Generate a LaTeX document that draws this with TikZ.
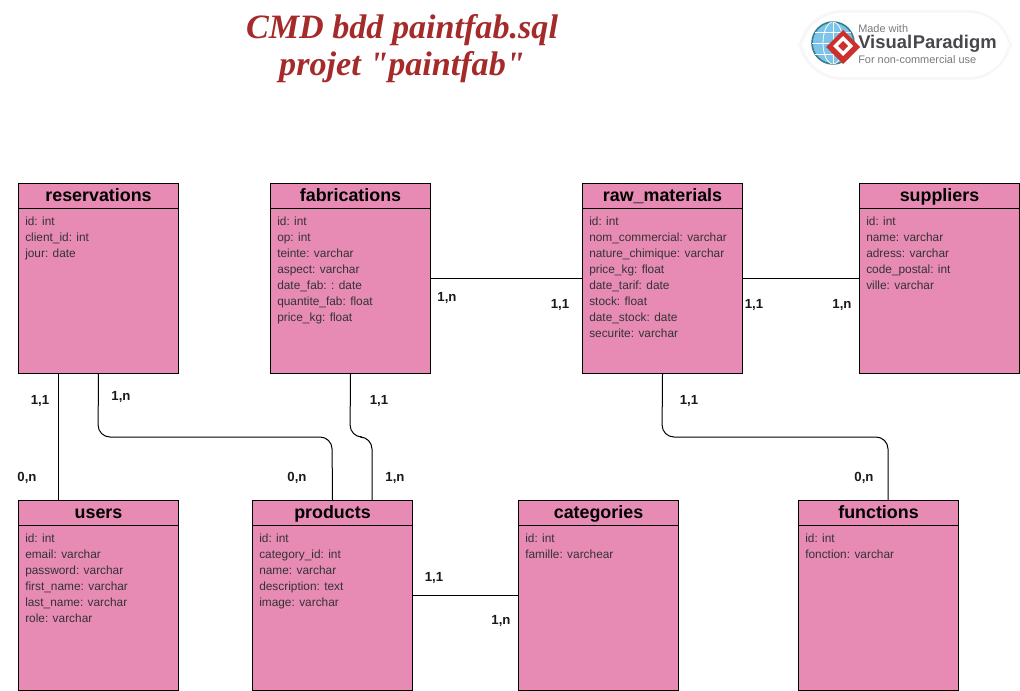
\documentclass[tikz,border=0pt]{standalone}
\usepackage{fontspec}
\setmainfont{Liberation Sans}
\newfontfamily\titlefont{Liberation Serif}
\usetikzlibrary{calc}
\definecolor{tablepink}{HTML}{E78BB5}
\definecolor{titlered}{HTML}{A52A2A}
\definecolor{logogray}{HTML}{77797C}
\definecolor{logodark}{HTML}{46484B}
\definecolor{logored}{HTML}{CC2F2C}
\definecolor{logoblue}{HTML}{7CC4EA}
\definecolor{logoteal}{HTML}{3B7C8C}

\begin{document}
\begin{tikzpicture}[
    x=0.75pt, y=-0.75pt,
    tablebox/.style={
        draw,
        fill=tablepink,
        line width=0.75pt,
        anchor=north west,
        minimum width=120pt,
        minimum height=142.5pt
    },
    tabletitle/.style={
        draw,
        line width=0.75pt,
        anchor=north,
        minimum width=120pt,
        minimum height=18.75pt,
        inner sep=0pt,
        text height=10.25pt,
        text depth=2.05pt,
        font=\fontsize{13.4}{14}\selectfont\bfseries
    },
    tablefields/.style={
        anchor=north west,
        align=left,
        inner sep=0pt,
        text=black!80,
        font=\fontsize{8.9}{12}\selectfont
    },
    cardlabel/.style={
        font=\fontsize{9.9}{12}\selectfont\bfseries,
        text=black!90
    },
    link/.style={line width=0.75pt, rounded corners=9pt}
]

\useasboundingbox (0,0) rectangle (1020,691);

% title
\node[font=\titlefont\fontsize{25.6}{27.8}\selectfont\bfseries\itshape, text=titlered, align=center] (title) at (402,49) {CMD bdd paintfab.sql\\projet "paintfab"};

% logo
\fill[black!3, rounded corners=33pt] (798,10) rectangle (1012,80);
\fill[white, rounded corners=30pt] (802,13) rectangle (1009,77);
\fill[logoblue] (833,43) circle (21);
\draw[logoteal, line width=1.2pt] (833,43) circle (21);
\draw[white, line width=0.6pt] (812,43) -- (854,43) (815,32) -- (851,32) (815,54) -- (851,54) (833,22) -- (833,64);
\draw[white, line width=0.6pt] (833,43) ellipse (10 and 21);
\fill[logored] (843,30) -- (860,47) -- (843,64) -- (826,47) -- cycle;
\fill[white] (843,36) -- (853,46) -- (843,56) -- (833,46) -- cycle;
\fill[logored] (843,41) -- (848,46) -- (843,51) -- (838,46) -- cycle;
\node[anchor=west, inner sep=0pt, text=logogray, font=\fontsize{8.2}{10}\selectfont] (logotop) at (858,29) {Made with};
\node[anchor=west, inner sep=0pt, text=logodark, font=\fontsize{13.8}{15}\selectfont\bfseries] (logoname) at (858,44) {Visual\kern0.5pt Paradigm};
\node[anchor=west, inner sep=0pt, text=logogray, font=\fontsize{8.2}{10}\selectfont] (logobottom) at (858,60) {For non-commercial use};

% tables
\node[tablebox] (reservations) at (18,183) {};
\node[tabletitle] (reservationstitle) at (reservations.north) {reservations};
\node[tablefields] (reservationsfields) at (25,216.5) {id: int\\client\_id: int\\jour: date};

\node[tablebox] (fabrications) at (270,183) {};
\node[tabletitle] (fabricationstitle) at (fabrications.north) {fabrications};
\node[tablefields] (fabricationsfields) at (277,216.5) {id: int\\op: int\\teinte: varchar\\aspect: varchar\\date\_fab: : date\\quantite\_fab: float\\price\_kg: float};

\node[tablebox] (rawmaterials) at (582,183) {};
\node[tabletitle] (rawmaterialstitle) at (rawmaterials.north) {raw\_materials};
\node[tablefields] (rawmaterialsfields) at (589,216.5) {id: int\\nom\_commercial: varchar\\nature\_chimique: varchar\\price\_kg: float\\date\_tarif: date\\stock: float\\date\_stock: date\\securite: varchar};

\node[tablebox] (suppliers) at (859,183) {};
\node[tabletitle] (supplierstitle) at (suppliers.north) {suppliers};
\node[tablefields] (suppliersfields) at (866,216.5) {id: int\\name: varchar\\adress: varchar\\code\_postal: int\\ville: varchar};

\node[tablebox] (users) at (18,500) {};
\node[tabletitle] (userstitle) at (users.north) {users};
\node[tablefields] (usersfields) at (25,533.5) {id: int\\email: varchar\\password: varchar\\first\_name: varchar\\last\_name: varchar\\role: varchar};

\node[tablebox] (products) at (252,500) {};
\node[tabletitle] (productstitle) at (products.north) {products};
\node[tablefields] (productsfields) at (259,533.5) {id: int\\category\_id: int\\name: varchar\\description: text\\image: varchar};

\node[tablebox] (categories) at (518,500) {};
\node[tabletitle] (categoriestitle) at (categories.north) {categories};
\node[tablefields] (categoriesfields) at (525,533.5) {id: int\\famille: varchear};

\node[tablebox] (functions) at (798,500) {};
\node[tabletitle] (functionstitle) at (functions.north) {functions};
\node[tablefields] (functionsfields) at (805,533.5) {id: int\\fonction: varchar};

% links
\draw[link] ($(reservations.south west)+(40,0)$) -- ($(users.north west)+(40,0)$);
\draw[link] (reservations.south) -- (98,437) -- (332,437) -- (products.north);
\draw[link] (fabrications.south) -- (350,437) -- (372,437) -- ($(products.north west)+(120,0)$);
\draw[link] (rawmaterials.south) -- (662,437) -- (888,437) -- ($(functions.north west)+(90,0)$);
\draw[link] (fabrications.east) -- (rawmaterials.west);
\draw[link] (rawmaterials.east) -- (suppliers.west);
\draw[link] (products.east) -- (categories.west);

% cardinalities
\node[cardlabel] (l1) at (40,401) {1,1};
\node[cardlabel] (l2) at (27,478) {0,n};
\node[cardlabel] (l3) at (121,397) {1,n};
\node[cardlabel] (l4) at (297,478) {0,n};
\node[cardlabel] (l5) at (379,401) {1,1};
\node[cardlabel] (l6) at (395,478) {1,n};
\node[cardlabel] (l7) at (447,298) {1,n};
\node[cardlabel] (l8) at (560,305) {1,1};
\node[cardlabel] (l9) at (754,305) {1,1};
\node[cardlabel] (l10) at (842,305) {1,n};
\node[cardlabel] (l11) at (689,401) {1,1};
\node[cardlabel] (l12) at (864,478) {0,n};
\node[cardlabel] (l13) at (434,578) {1,1};
\node[cardlabel] (l14) at (501,621) {1,n};

\end{tikzpicture}
\end{document}
